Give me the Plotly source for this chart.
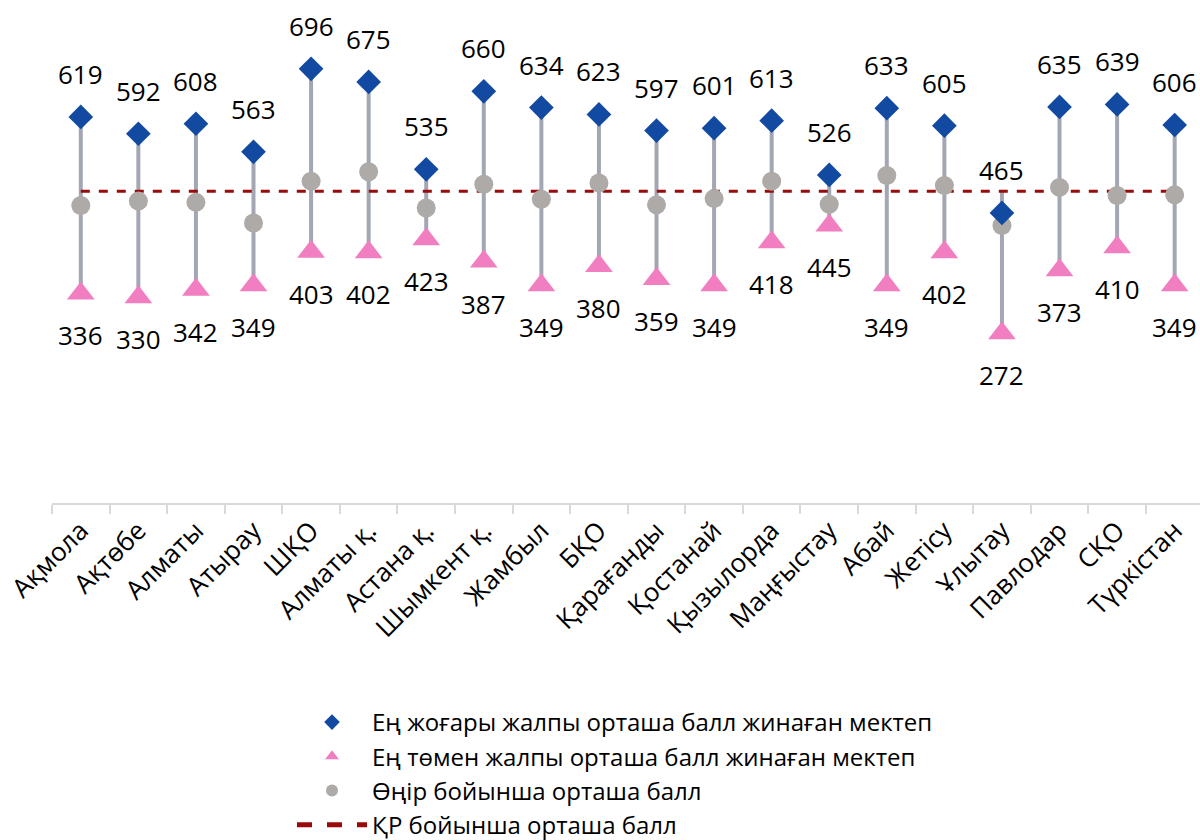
import plotly.graph_objects as go

categories = ["Ақмола", "Ақтөбе", "Алматы", "Атырау", "ШҚО", "Алматы қ.", "Астана қ.",
              "Шымкент қ.", "Жамбыл", "БҚО", "Қарағанды", "Қостанай", "Қызылорда",
              "Маңғыстау", "Абай", "Жетісу", "Ұлытау", "Павлодар", "СҚО", "Түркістан"]
max_school = [619, 592, 608, 563, 696, 675, 535, 660, 634, 623, 597, 601, 613, 526, 633, 605, 465, 635, 639, 606]
min_school = [336, 330, 342, 349, 403, 402, 423, 387, 349, 380, 359, 349, 418, 445, 349, 402, 272, 373, 410, 349]
region_avg = [477, 484, 482, 449, 516, 531, 473, 511, 487, 513, 478, 488, 516, 479, 525, 509, 445, 506, 493, 494]
kz_avg = 500

FONT = "Open Sans, Noto Sans, DejaVu Sans, sans-serif"
kz_line = [kz_avg] * len(categories)

# high-low connector lines (span all series incl. national average)
lx, ly = [], []
for i, c in enumerate(categories):
    vals = [max_school[i], min_school[i], region_avg[i], kz_line[i]]
    lx += [c, c, None]
    ly += [min(vals), max(vals), None]

fig = go.Figure()
fig.add_trace(go.Scatter(x=lx, y=ly, mode="lines", line=dict(color="#A3A7B3", width=4),
                         showlegend=False, hoverinfo="skip"))
fig.add_trace(go.Scatter(x=categories, y=kz_line, mode="lines",
                         line=dict(color="#9B0A0A", width=3, dash="dash"),
                         name="ҚР бойынша орташа балл", legendrank=4, legendgroup="d"))
fig.add_trace(go.Scatter(x=categories, y=region_avg, mode="markers",
                         marker=dict(symbol="circle", size=19, color="#ADAAA8"),
                         name="Өңір бойынша орташа балл", legendrank=3, legendgroup="c"))
fig.add_trace(go.Scatter(x=categories, y=min_school, mode="markers",
                         marker=dict(symbol="triangle-up", size=24, color="#F07EC0"),
                         name="Ең төмен жалпы орташа балл жинаған мектеп", legendrank=2, legendgroup="b"))
fig.add_trace(go.Scatter(x=categories, y=max_school, mode="markers",
                         marker=dict(symbol="diamond", size=19, color="#124AA2"),
                         name="Ең жоғары жалпы орташа балл жинаған мектеп", legendrank=1, legendgroup="a"))

annotations = []
for c, v in zip(categories, max_school):
    annotations.append(dict(x=c, y=v, text=str(v), showarrow=False, yshift=43,
                            yanchor="middle", font=dict(size=26, color="#000000", family=FONT)))
for c, v in zip(categories, min_school):
    annotations.append(dict(x=c, y=v, text=str(v), showarrow=False, yshift=-42,
                            yanchor="middle", font=dict(size=26, color="#000000", family=FONT)))

fig.update_layout(
    width=1200, height=840,
    margin=dict(l=52, r=0, t=4, b=337, autoexpand=False),
    paper_bgcolor="white", plot_bgcolor="white",
    font=dict(family=FONT, size=22, color="#000000"),
    annotations=annotations,
    showlegend=True,
    legend=dict(xref="container", yref="container", x=292 / 1200, y=1 - 700 / 840,
                xanchor="left", yanchor="top", font=dict(size=24, family=FONT),
                itemwidth=70, traceorder="grouped", tracegroupgap=0, itemsizing="constant",
                bgcolor="rgba(0,0,0,0)"),
    xaxis=dict(type="category", range=[-0.5, 19.44], showgrid=False, zeroline=False,
               showline=True, linecolor="#D9D9D9", linewidth=2, automargin=False,
               ticks="outside", tickson="boundaries", ticklen=9, tickcolor="#D9D9D9", tickwidth=2,
               tickangle=-45, tickfont=dict(size=26, family=FONT, color="#000000"),
               fixedrange=True),
    yaxis=dict(range=[0, 800], visible=False, showgrid=False, zeroline=False, fixedrange=True),
)

fig.write_html("out.html", config={"displayModeBar": False},
               post_script="document.body.style.margin='0';document.body.style.padding='0';")
